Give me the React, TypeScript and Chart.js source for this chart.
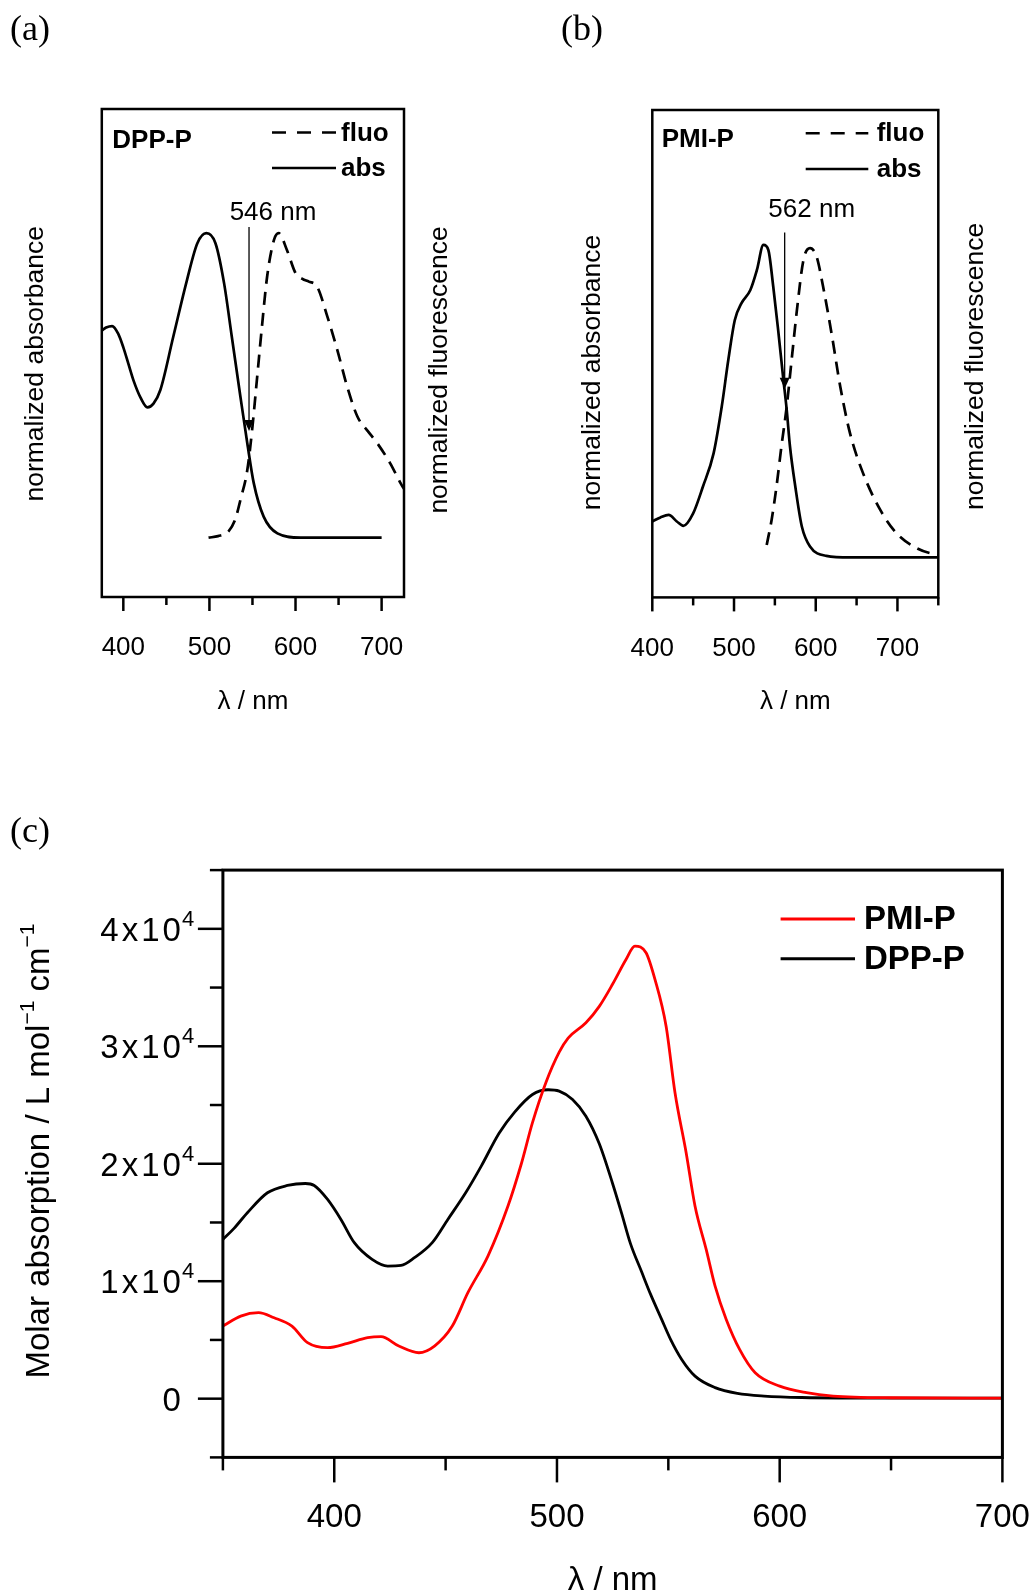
import React, { useEffect, useRef } from 'react';
import { Chart, registerables } from 'chart.js';

Chart.register(...registerables);

const SANS = '"Liberation Sans", Arial, Helvetica, sans-serif';
const SERIF = '"Liberation Serif", "Times New Roman", serif';

// ---------------- Panel (a): DPP-P (normalized) ----------------
const A_ABS_NM = [375, 380, 387, 394, 400, 406, 412, 420, 428, 435, 443, 458, 474, 486, 496.5, 507, 517, 526, 536, 544, 551.5, 563, 579, 606, 650, 700];
const A_ABS = [0.68, 0.69, 0.695, 0.67, 0.625, 0.57, 0.515, 0.46, 0.428, 0.44, 0.485, 0.66, 0.847, 0.967, 1.0, 0.967, 0.836, 0.66, 0.463, 0.31, 0.179, 0.069, 0.014, 0.0, 0.0, 0.0];
const A_FLUO_NM = [499, 510, 522, 530, 536, 544, 550, 555.5, 561, 567, 575, 580.5, 590, 600, 608, 615.5, 625, 637, 648.5, 660, 672, 684, 695, 710, 722, 726];
const A_FLUO = [0.0, 0.005, 0.02, 0.06, 0.124, 0.222, 0.365, 0.529, 0.693, 0.857, 0.978, 1.0, 0.945, 0.869, 0.85, 0.841, 0.825, 0.726, 0.617, 0.496, 0.397, 0.35, 0.31, 0.244, 0.179, 0.16];
const A_CROSS_NM = 546;
const A_ARROW = [1.02, 0.35]; // arrow top, arrow tip (normalized units)
const A_X_TICKS = [400, 450, 500, 550, 600, 650, 700];

// ---------------- Panel (b): PMI-P (normalized) ----------------
const B_ABS_NM = [400, 410, 420, 430, 438, 450, 462, 475, 485, 493, 501, 509, 520, 528, 536, 542, 548, 554, 560, 564.5, 568.5, 575, 583, 593, 613, 642, 700, 750];
const B_ABS = [0.115, 0.128, 0.136, 0.115, 0.101, 0.141, 0.227, 0.333, 0.483, 0.632, 0.76, 0.813, 0.856, 0.92, 1.0, 0.984, 0.867, 0.728, 0.579, 0.472, 0.355, 0.227, 0.099, 0.035, 0.005, 0.0, 0.0, 0.0];
const B_FLUO_NM = [540, 546, 552, 558, 564.5, 570.5, 577, 585, 593, 601, 609, 620, 630, 642, 658, 679, 699, 724, 748, 750];
const B_FLUO = [0.04, 0.12, 0.227, 0.355, 0.483, 0.632, 0.792, 0.952, 0.99, 0.963, 0.867, 0.707, 0.547, 0.397, 0.269, 0.152, 0.077, 0.029, 0.008, 0.007];
const B_CROSS_NM = 562;
const B_ARROW = [1.04, 0.54];
const B_X_TICKS = [400, 450, 500, 550, 600, 650, 700, 750];

// ---------------- Panel (c): molar absorption ----------------
const C_PMI_NM = [350, 358, 366, 373, 381, 388, 397, 406, 415, 421, 429, 438, 445, 453, 460, 469, 478, 484, 489, 495, 501, 505, 513, 519, 525, 531, 535, 540, 544, 549, 553, 558, 562, 567, 571, 576, 582, 589, 600, 612, 624, 650, 700];
const C_PMI = [6180, 7030, 7320, 6890, 6180, 4770, 4340, 4710, 5190, 5280, 4480, 3910, 4480, 6180, 9020, 12140, 16400, 20000, 23500, 26900, 29500, 30700, 32000, 33400, 35300, 37390, 38520, 37960, 35690, 31710, 26040, 20940, 16390, 12710, 9580, 6750, 4200, 2210, 1070, 510, 220, 80, 50];
const C_DPP_NM = [350, 355, 361, 370, 379, 387, 391, 397, 403, 409, 417, 424, 430, 436, 444, 451, 459, 466, 474, 481, 489, 496, 501, 507, 513, 519, 525, 529, 533, 538, 542, 547, 551, 556, 562, 571, 581, 593, 610, 650, 700];
const C_DPP = [13560, 14500, 15830, 17530, 18150, 18320, 18150, 16960, 15260, 13280, 11860, 11290, 11340, 12000, 13280, 15260, 17530, 19800, 22600, 24400, 25900, 26300, 26180, 25470, 24050, 21700, 18300, 15800, 13200, 10800, 8900, 6750, 5050, 3340, 1920, 940, 450, 220, 100, 50, 50];
const C_X_TICKS = [350, 400, 450, 500, 550, 600, 650, 700];
const C_Y_TICKS = [-5000, 0, 5000, 10000, 15000, 20000, 25000, 30000, 35000, 40000, 45000];
const C_Y_TICK_VALUES = [0, 10000, 20000, 30000, 40000];
const C_Y_TICK_MANT = ['0', '1x10', '2x10', '3x10', '4x10'];
const C_Y_TICK_EXP = ['', '4', '4', '4', '4'];
const C_SERIES = ['PMI-P', 'DPP-P'];
const C_COLORS = ['#ff0000', '#000000'];

const pts = (xs: number[], ys: number[]) => xs.map((x, i) => ({ x, y: ys[i] }));

function line(ctx: CanvasRenderingContext2D, x1: number, y1: number, x2: number, y2: number) {
  ctx.beginPath();
  ctx.moveTo(x1, y1);
  ctx.lineTo(x2, y2);
  ctx.stroke();
}

function rotText(ctx: CanvasRenderingContext2D, text: string, x: number, y: number, font: string) {
  ctx.save();
  ctx.translate(x, y);
  ctx.rotate(-Math.PI / 2);
  ctx.font = font;
  ctx.textAlign = 'center';
  ctx.textBaseline = 'middle';
  ctx.fillText(text, 0, 0);
  ctx.restore();
}

type Seg = { t: string; size: number; dy: number };
function richRotText(ctx: CanvasRenderingContext2D, segs: Seg[], x: number, y: number, baseOff: number) {
  ctx.save();
  ctx.translate(x, y);
  ctx.rotate(-Math.PI / 2);
  ctx.textAlign = 'left';
  ctx.textBaseline = 'alphabetic';
  let total = 0;
  const widths = segs.map((s) => {
    ctx.font = `${s.size}px ${SANS}`;
    const w = ctx.measureText(s.t).width;
    total += w;
    return w;
  });
  let cx = -total / 2;
  segs.forEach((s, i) => {
    ctx.font = `${s.size}px ${SANS}`;
    ctx.fillText(s.t, cx, baseOff + s.dy);
    cx += widths[i];
  });
  ctx.restore();
}

type SmallCfg = {
  name: string;
  absNm: number[]; abs: number[]; fluoNm: number[]; fluo: number[];
  cross: number; arrow: number[]; xTicks: number[];
  xMin: number; xMax: number; yMin: number; yMax: number;
  padL: number; padR: number; padT: number; xAxisH: number;
  nameDx: number; nameDy: number;
  legX1: number; legX2: number; legText: number; legY1: number; legY2: number;
  labDx: number; labDy: number;
  ltDx: number; ltDy: number; rtDx: number; rtDy: number;
};

function smallPanelPlugin(p: SmallCfg) {
  return {
    id: 'decor',
    afterDraw(chart: any) {
      const { ctx, chartArea: a } = chart;
      const x = chart.scales.x;
      const y = chart.scales.y;
      ctx.save();
      ctx.strokeStyle = '#000';
      ctx.fillStyle = '#000';
      ctx.lineWidth = 2.5;
      ctx.strokeRect(a.left, a.top, a.right - a.left, a.bottom - a.top);
      x.ticks.forEach((t: any) => {
        const v = t.value;
        const px = x.getPixelForValue(v);
        line(ctx, px, a.bottom, px, a.bottom + (v % 100 === 0 ? 14 : 8));
      });
      ctx.font = `bold 26px ${SANS}`;
      ctx.textAlign = 'left';
      ctx.textBaseline = 'middle';
      ctx.fillText(p.name, a.left + p.nameDx, a.top + p.nameDy);
      ctx.lineWidth = 2.5;
      ctx.setLineDash([14, 11]);
      line(ctx, a.right - p.legX1, a.top + p.legY1, a.right - p.legX2, a.top + p.legY1);
      ctx.setLineDash([]);
      line(ctx, a.right - p.legX1, a.top + p.legY2, a.right - p.legX2, a.top + p.legY2);
      ctx.fillText('fluo', a.right - p.legText, a.top + p.legY1 + 1);
      ctx.fillText('abs', a.right - p.legText, a.top + p.legY2 + 1);
      const ax = x.getPixelForValue(p.cross);
      const ay0 = y.getPixelForValue(p.arrow[0]);
      const ay1 = y.getPixelForValue(p.arrow[1]);
      ctx.lineWidth = 1.3;
      line(ctx, ax, ay0, ax, ay1 - 6);
      ctx.beginPath();
      ctx.moveTo(ax - 5, ay1 - 11);
      ctx.lineTo(ax + 5, ay1 - 11);
      ctx.lineTo(ax, ay1);
      ctx.closePath();
      ctx.fill();
      ctx.font = `26px ${SANS}`;
      ctx.textAlign = 'center';
      ctx.fillText(`${p.cross} nm`, ax + p.labDx, a.top + p.labDy);
      const mid = (a.top + a.bottom) / 2;
      rotText(ctx, 'normalized absorbance', a.left - p.ltDx, mid + p.ltDy, `26.5px ${SANS}`);
      rotText(ctx, 'normalized fluorescence', a.right + p.rtDx, mid + p.rtDy, `26.5px ${SANS}`);
      ctx.restore();
    },
  };
}

function makeSmall(p: SmallCfg) {
  return {
    type: 'line',
    data: {
      datasets: [
        { label: 'abs', data: pts(p.absNm, p.abs), borderColor: '#000', borderWidth: 2.7, pointRadius: 0, cubicInterpolationMode: 'monotone', fill: false },
        { label: 'fluo', data: pts(p.fluoNm, p.fluo), borderColor: '#000', borderWidth: 2.7, borderDash: [13, 8], pointRadius: 0, cubicInterpolationMode: 'monotone', fill: false },
      ],
    },
    options: {
      animation: false,
      responsive: false,
      events: [],
      layout: { padding: { left: p.padL, right: p.padR, top: p.padT, bottom: 0 } },
      plugins: { legend: { display: false }, tooltip: { enabled: false } },
      scales: {
        x: {
          type: 'linear', min: p.xMin, max: p.xMax,
          grid: { display: false }, border: { display: false },
          ticks: {
            autoSkip: false, maxRotation: 0, minRotation: 0,
            padding: 27.4, color: '#000', font: { family: SANS, size: 26, lineHeight: 1.2 },
            callback: (v: any) => (Number(v) % 100 === 0 ? String(v) : ''),
          },
          afterBuildTicks: (s: any) => { s.ticks = p.xTicks.map((v) => ({ value: v })); },
          title: { display: true, text: 'λ / nm', color: '#000', font: { family: SANS, size: 26, lineHeight: 1.2 }, padding: { top: 0, bottom: 22.4 } },
          afterFit: (s: any) => { s.height = p.xAxisH; s.paddingLeft = 0; s.paddingRight = 0; },
        },
        y: { type: 'linear', display: false, min: p.yMin, max: p.yMax },
      },
    },
    plugins: [smallPanelPlugin(p)],
  };
}

const makeA = () => makeSmall({
  name: 'DPP-P', absNm: A_ABS_NM, abs: A_ABS, fluoNm: A_FLUO_NM, fluo: A_FLUO,
  cross: A_CROSS_NM, arrow: A_ARROW, xTicks: A_X_TICKS,
  xMin: 375, xMax: 726, yMin: -0.195, yMax: 1.408,
  padL: 101.8, padR: 76, padT: 109, xAxisH: 143,
  nameDx: 10.5, nameDy: 32,
  legX1: 132, legX2: 68, legText: 63, legY1: 23.5, legY2: 59,
  labDx: 24, labDy: 103.7,
  ltDx: 66.5, ltDy: 10.8, rtDx: 35.7, rtDy: 17,
});

const makeB = () => makeSmall({
  name: 'PMI-P', absNm: B_ABS_NM, abs: B_ABS, fluoNm: B_FLUO_NM, fluo: B_FLUO,
  cross: B_CROSS_NM, arrow: B_ARROW, xTicks: B_X_TICKS,
  xMin: 400, xMax: 750, yMin: -0.128, yMax: 1.432,
  padL: 132.3, padR: 95.7, padT: 110, xAxisH: 142.6,
  nameDx: 9.4, nameDy: 30,
  legX1: 132.6, legX2: 70, legText: 61.6, legY1: 23.3, legY2: 59,
  labDx: 27, labDy: 100,
  ltDx: 59.9, ltDy: 18.8, rtDx: 37.7, rtDy: 12.7,
});

const bigPlugin = {
  id: 'decorC',
  afterDraw(chart: any) {
    const { ctx, chartArea: a } = chart;
    const x = chart.scales.x;
    const y = chart.scales.y;
    ctx.save();
    ctx.strokeStyle = '#000';
    ctx.fillStyle = '#000';
    ctx.lineWidth = 3;
    ctx.strokeRect(a.left, a.top, a.right - a.left, a.bottom - a.top);
    ctx.lineWidth = 2.5;
    x.ticks.forEach((t: any) => {
      const v = t.value;
      const px = x.getPixelForValue(v);
      line(ctx, px, a.bottom, px, a.bottom + (v % 100 === 0 ? 25 : 13));
    });
    y.ticks.forEach((t: any) => {
      const v = t.value;
      const py = y.getPixelForValue(v);
      line(ctx, a.left - (v % 10000 === 0 ? 25 : 13), py, a.left, py);
    });
    // y tick labels with superscript exponents
    ctx.textBaseline = 'alphabetic';
    C_Y_TICK_VALUES.forEach((v, i) => {
      const py = y.getPixelForValue(v);
      const xr = a.left - 42;
      ctx.font = `33px ${SANS}`;
      ctx.textAlign = 'right';
      (ctx as any).letterSpacing = '3px';
      ctx.fillText(C_Y_TICK_MANT[i], xr + 3, py + 11.9);
      (ctx as any).letterSpacing = '0px';
      if (C_Y_TICK_EXP[i]) {
        ctx.font = `22px ${SANS}`;
        ctx.textAlign = 'left';
        ctx.fillText(C_Y_TICK_EXP[i], xr + 1, py - 3);
      }
    });
    // y title
    const mid = (a.top + a.bottom) / 2;
    richRotText(ctx, [
      { t: 'Molar absorption / L mol', size: 33, dy: 0 },
      { t: '\u22121', size: 21, dy: -15 },
      { t: ' cm', size: 33, dy: 0 },
      { t: '\u22121', size: 21, dy: -15 },
    ], a.left - 185.4, mid - 12.7, 11.8);
    // legend
    const legY = [48.9, 88.6];
    C_SERIES.forEach((name, i) => {
      ctx.strokeStyle = C_COLORS[i];
      ctx.lineWidth = 3;
      line(ctx, a.right - 221.8, a.top + legY[i], a.right - 147.4, a.top + legY[i]);
      ctx.fillStyle = '#000';
      ctx.font = `bold 33px ${SANS}`;
      ctx.textAlign = 'left';
      ctx.textBaseline = 'middle';
      ctx.fillText(name, a.right - 138.4, a.top + legY[i] + 1);
    });
    ctx.restore();
  },
};

const makeC = () => ({
  type: 'line',
  data: {
    datasets: [
      { label: C_SERIES[0], data: pts(C_PMI_NM, C_PMI), borderColor: C_COLORS[0], borderWidth: 2.8, pointRadius: 0, cubicInterpolationMode: 'monotone', fill: false },
      { label: C_SERIES[1], data: pts(C_DPP_NM, C_DPP), borderColor: C_COLORS[1], borderWidth: 2.8, pointRadius: 0, cubicInterpolationMode: 'monotone', fill: false },
    ],
  },
  options: {
    animation: false,
    responsive: false,
    events: [],
    layout: { padding: { left: 222.9, right: 31.6, top: 90.1, bottom: 0 } },
    plugins: { legend: { display: false }, tooltip: { enabled: false } },
    scales: {
      x: {
        type: 'linear', min: 350, max: 700,
        grid: { display: false }, border: { display: false },
        ticks: {
          autoSkip: false, maxRotation: 0, minRotation: 0,
          padding: 33, color: '#000', font: { family: SANS, size: 33, lineHeight: 1.2 },
          callback: (v: any) => (Number(v) % 100 === 0 ? String(v) : ''),
        },
        afterBuildTicks: (s: any) => { s.ticks = C_X_TICKS.map((v) => ({ value: v })); },
        title: { display: true, text: 'λ / nm', color: '#000', font: { family: SANS, size: 33, lineHeight: 1.2 }, padding: { top: 0, bottom: 0 } },
        afterFit: (s: any) => { s.height = 143.6; s.paddingLeft = 0; s.paddingRight = 0; },
      },
      y: {
        type: 'linear', display: false, min: -5000, max: 45000,
        afterBuildTicks: (s: any) => { s.ticks = C_Y_TICKS.map((v) => ({ value: v })); },
      },
    },
  },
  plugins: [bigPlugin],
});

function ChartCanvas({ make, left, top, width, height }: { make: () => any; left: number; top: number; width: number; height: number }) {
  const ref = useRef<HTMLCanvasElement>(null);
  useEffect(() => {
    const chart = new Chart(ref.current as HTMLCanvasElement, make());
    return () => chart.destroy();
  }, []);
  return (
    <canvas
      ref={ref}
      width={width}
      height={height}
      style={{ position: 'absolute', left, top, width, height, display: 'block' }}
    />
  );
}

const letterStyle = (left: number, top: number): React.CSSProperties => ({
  position: 'absolute',
  left,
  top,
  fontFamily: SERIF,
  fontSize: 36,
  lineHeight: '36px',
  color: '#000',
});

export default function App() {
  return (
    <div style={{ position: 'absolute', left: 0, top: 0, width: 1034, height: 1596, overflow: 'hidden', background: '#fff' }}>
      <ChartCanvas make={makeA} left={0} top={0} width={480} height={740} />
      <ChartCanvas make={makeB} left={520} top={0} width={514} height={740} />
      <ChartCanvas make={makeC} left={0} top={780} width={1034} height={821} />
      <div style={letterStyle(10, 10)}>(a)</div>
      <div style={letterStyle(561, 10)}>(b)</div>
      <div style={letterStyle(10, 812)}>(c)</div>
    </div>
  );
}
